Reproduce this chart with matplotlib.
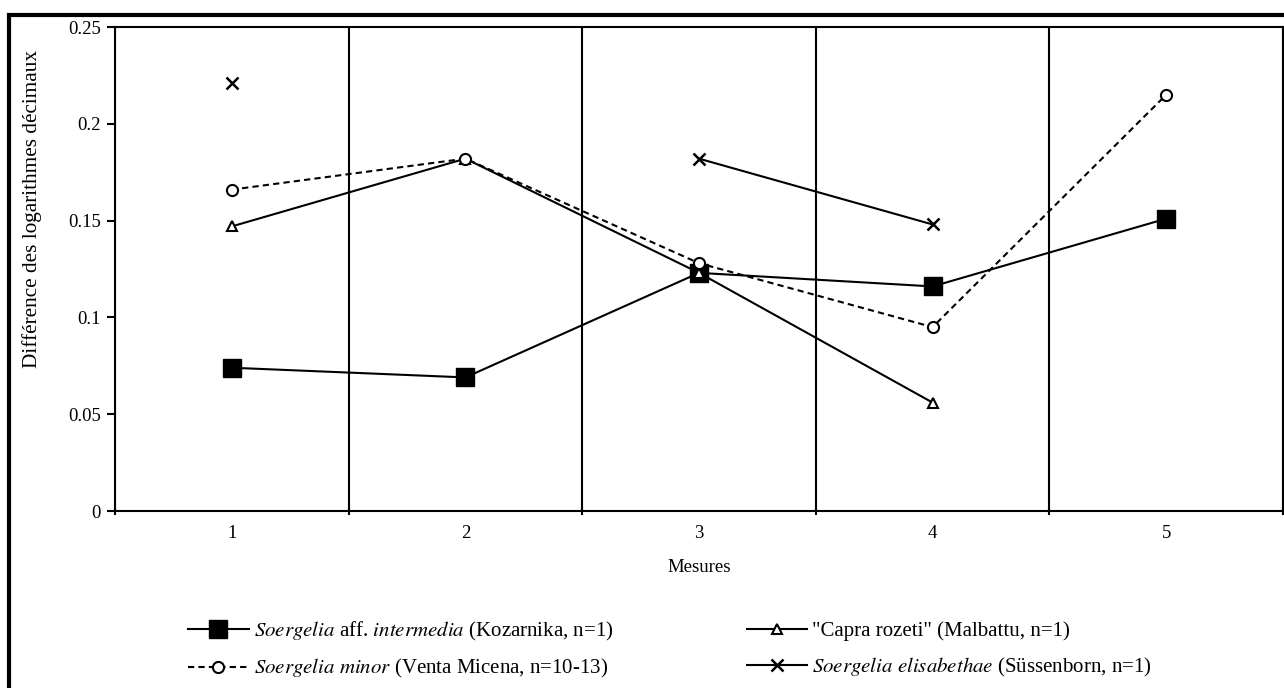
import numpy as np
import matplotlib
matplotlib.use('Agg')
import matplotlib.pyplot as plt
from matplotlib.patches import Rectangle

plt.rcParams['font.family'] = ['Liberation Serif', 'DejaVu Serif']
plt.rcParams['mathtext.fontset'] = 'stix'

# data (nan = no value)
mesures = [1, 2, 3, 4, 5]
intermedia = [0.074, 0.069, 0.123, 0.116, 0.151]
capra = [0.147, 0.182, 0.123, 0.056, np.nan]
minor = [0.166, 0.182, 0.128, 0.095, 0.215]
elisabethae = [0.221, np.nan, 0.182, 0.148, np.nan]

ytick_vals = [0, 0.05, 0.1, 0.15, 0.2, 0.25]
ytick_labels = ['0', '0.05', '0.1', '0.15', '0.2', '0.25']

fig = plt.figure(figsize=(12.84, 6.88), dpi=100)
ax = fig.add_axes([115/1284, 1 - 511/688, (1283 - 115)/1284, (511 - 27)/688])

# outer frame around the whole chart (cut at right and bottom)
fig.patches.append(Rectangle((9/1284, -0.2), 1.3, 1.2 - 14.5/688, transform=fig.transFigure,
                             fill=False, edgecolor='black', linewidth=3, zorder=0))

lw = 1.5
l1, = ax.plot(mesures, intermedia, color='black', lw=lw, marker='s', markersize=12.5,
              markerfacecolor='black', markeredgecolor='black', zorder=3)
l2, = ax.plot(mesures, capra, color='black', lw=lw, marker='^', markersize=7,
              markerfacecolor='white', markeredgecolor='black', markeredgewidth=1.5, zorder=4)
l3, = ax.plot(mesures, minor, color='black', lw=lw, linestyle=(0, (3, 2)), marker='o', markersize=8,
              markerfacecolor='white', markeredgecolor='black', markeredgewidth=1.5, zorder=4)
l4, = ax.plot(mesures, elisabethae, color='black', lw=lw, marker='x', markersize=9,
              markeredgecolor='black', markeredgewidth=1.8, zorder=4)

ax.set_xlim(0.5, 5.5)
ax.set_ylim(0, 0.25)
ax.set_xticks(mesures)
ax.set_xticklabels([str(m) for m in mesures])
ax.set_xticks(np.arange(0.5, 5.6, 1), minor=True)
ax.tick_params(axis='x', which='major', length=0, labelsize=13.5, pad=10)
ax.tick_params(axis='x', which='minor', length=6, width=1.5, direction='inout')
ax.set_yticks(ytick_vals)
ax.set_yticklabels(ytick_labels)
ax.tick_params(axis='y', length=6, width=1.5, labelsize=13.5, pad=4)
ax.xaxis.grid(True, which='minor', color='black', lw=1.5)
ax.set_axisbelow(True)
for s in ax.spines.values():
    s.set_linewidth(1.5)

ax.set_xlabel('Mesures', fontsize=13.5, labelpad=12)
fig.text(32/1284, 1 - 209/688, 'Différence des logarithmes décimaux', rotation=90,
         ha='center', va='center', fontsize=15.3)

labels = [r'$\mathit{Soergelia}$ aff. $\mathit{intermedia}$ (Kozarnika, n=1)',
          r'$\mathit{Soergelia\ minor}$ (Venta Micena, n=10-13)',
          '"Capra rozeti" (Malbattu, n=1)',
          r'$\mathit{Soergelia\ elisabethae}$ (Süssenborn, n=1)']
fig.legend([l1, l3, l2, l4], labels, ncol=2, frameon=False, loc='center',
           bbox_to_anchor=(670/1284, 1 - 650/688), fontsize=15, handlelength=2.9,
           handletextpad=0.25, columnspacing=6.4, borderpad=0, borderaxespad=0,
           labelspacing=0.7)

fig.savefig('out.png', dpi=100)
